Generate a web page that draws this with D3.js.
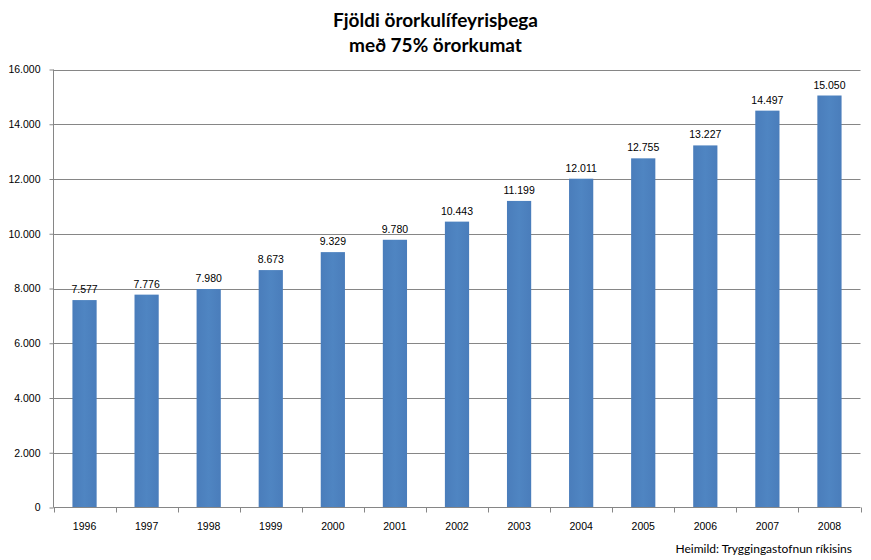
<!DOCTYPE html>
<html><head><meta charset="utf-8">
<script src="https://cdn.jsdelivr.net/npm/d3@7"></script>
<style>body{margin:0;background:#fff;} svg{display:block;}</style>
</head><body>
<svg id="c" width="871" height="560"></svg>
<script>
const years = ["1996","1997","1998","1999","2000","2001","2002","2003","2004","2005","2006","2007","2008"];
const values = [7577,7776,7980,8673,9329,9780,10443,11199,12011,12755,13227,14497,15050];
const yTicks = [0,2000,4000,6000,8000,10000,12000,14000,16000];
const titleLines = ["Fjöldi örorkulífeyrisþega","með 75% örorkumat"];
const sourceText = "Heimild: Tryggingastofnun ríkisins";

const loc = d3.formatLocale({decimal:",", thousands:".", grouping:[3], currency:["",""]});
const fmt = loc.format(",d");

const svg = d3.select("#c");
const m = {left:53.5, right:860.5, top:69.5, bottom:507.5};
const x = d3.scaleBand().domain(years).range([m.left, m.right]).paddingInner(0.61).paddingOuter(0.305);
const xb = d3.scaleBand().domain(years).range([m.left, m.right]);
const y = d3.scaleLinear().domain([0,16000]).range([m.bottom, m.top]);

const grid = "#868686";
// gridlines
svg.append("g").selectAll("line").data(yTicks.filter(d=>d>0)).join("line")
  .attr("x1", m.left).attr("x2", m.right)
  .attr("y1", d=>Math.round(y(d))+0.5).attr("y2", d=>Math.round(y(d))+0.5)
  .attr("stroke", grid).attr("stroke-width",1);

// gradient
const defs = svg.append("defs");
const g = defs.append("linearGradient").attr("id","bg").attr("x1","0").attr("x2","1").attr("y1","0").attr("y2","0");
g.append("stop").attr("offset","0%").attr("stop-color","#4a7dbb");
g.append("stop").attr("offset","50%").attr("stop-color","#4f85c2");
g.append("stop").attr("offset","100%").attr("stop-color","#4a7dbb");

svg.append("g").selectAll("rect").data(values).join("rect")
  .attr("x",(d,i)=>x(years[i])).attr("width",x.bandwidth())
  .attr("y",d=>y(d)).attr("height",d=>m.bottom-0.5-y(d))
  .attr("fill","url(#bg)");

// value labels
svg.append("g").selectAll("text").data(values).join("text")
  .attr("x",(d,i)=>x(years[i])+x.bandwidth()/2).attr("y",d=>y(d)-7)
  .attr("text-anchor","middle").attr("font-family","Liberation Sans, Arial, sans-serif")
  .attr("font-size","10.5px").attr("fill","#000").text(d=>fmt(d));

// y axis
const ya = d3.axisLeft(y).tickValues(yTicks).tickFormat(d=>fmt(d)).tickSize(4).tickPadding(9);
const yg = svg.append("g").attr("transform",`translate(${m.left},0)`).call(ya);
yg.select(".domain").attr("stroke",grid).attr("d",`M0,${m.top}V${m.bottom}`);
yg.selectAll(".tick line").attr("stroke",grid);
yg.selectAll("text").attr("font-family","Liberation Sans, Arial, sans-serif").attr("font-size","10.5px").attr("fill","#000");

// x axis
const xa = d3.axisBottom(xb).tickSize(0).tickPadding(15);
const xg = svg.append("g").attr("transform",`translate(0,${m.bottom})`).call(xa);
xg.select(".domain").attr("stroke",grid).attr("d",`M${m.left},0H${m.right}`);
xg.selectAll("text").attr("font-family","Liberation Sans, Arial, sans-serif").attr("font-size","10.5px").attr("fill","#000");
// boundary ticks
const bounds = years.map(d=>xb(d)).concat([xb(years[years.length-1])+xb.bandwidth()]);
svg.append("g").selectAll("line").data(bounds).join("line")
  .attr("x1",d=>Math.round(d)+0.5).attr("x2",d=>Math.round(d)+0.5)
  .attr("y1",m.bottom).attr("y2",m.bottom+5).attr("stroke",grid);

// title
svg.append("g").selectAll("text").data(titleLines).join("text")
  .attr("x",435.5).attr("y",(d,i)=>27+i*25).attr("text-anchor","middle")
  .attr("font-family","Lato, sans-serif").attr("font-weight","bold").attr("font-size","19px")
  .attr("fill","#000").text(d=>d);

// source
svg.append("text").attr("x",852).attr("y",553).attr("text-anchor","end")
  .attr("font-family","Lato, sans-serif").attr("font-size","12px").attr("fill","#000").text(sourceText);
</script>
</body></html>
